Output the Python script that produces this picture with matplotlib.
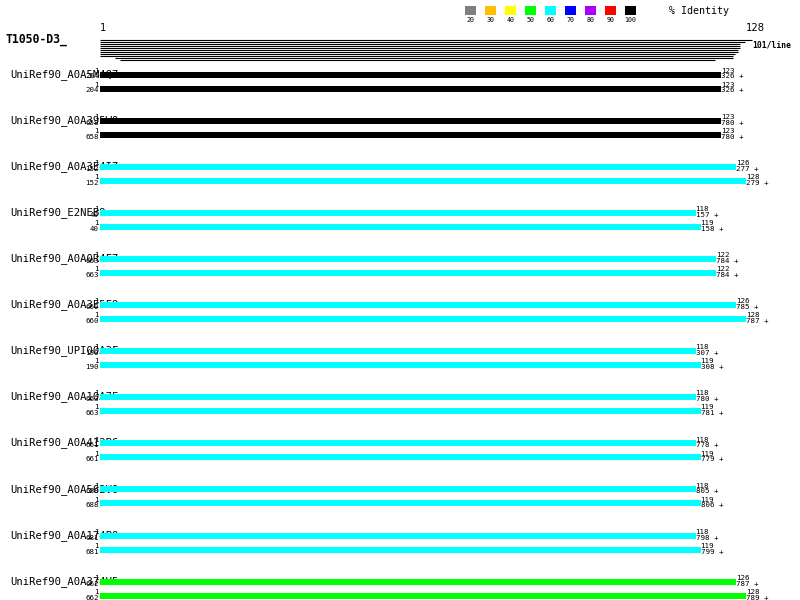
import matplotlib
matplotlib.use("Agg")
import matplotlib.pyplot as plt

# query length and title
query_name = "T1050-D3_"
query_len = 128

# hits: name (as shown, truncated), colour, (q_end, s_start, s_end) for the two rows
names = ["UniRef90_A0A5M4Q7", "UniRef90_A0A395W0", "UniRef90_A0A3E4I7",
         "UniRef90_E2NEB9", "UniRef90_A0A0R4F7", "UniRef90_A0A3E5F9",
         "UniRef90_UPI00A3F", "UniRef90_A0A10A7E", "UniRef90_A0A412B6",
         "UniRef90_A0A562V0", "UniRef90_A0A174P0", "UniRef90_A0A374V5"]
colors = ["#000000", "#000000", "#00ffff", "#00ffff", "#00ffff", "#00ffff",
          "#00ffff", "#00ffff", "#00ffff", "#00ffff", "#00ffff", "#00ff00"]
q_end1 = [123, 123, 126, 118, 122, 126, 118, 118, 118, 118, 118, 126]
s_start1 = [204, 658, 152, 40, 663, 660, 190, 663, 661, 688, 681, 662]
s_end1 = [326, 780, 277, 157, 784, 785, 307, 780, 778, 805, 798, 787]
q_end2 = [123, 123, 128, 119, 122, 128, 119, 119, 119, 119, 119, 128]
s_start2 = [204, 658, 152, 40, 663, 660, 190, 663, 661, 688, 681, 662]
s_end2 = [326, 780, 279, 158, 784, 787, 308, 781, 779, 806, 799, 789]

# identity legend
legend_labels = ["20", "30", "40", "50", "60", "70", "80", "90", "100"]
legend_colors = ["#808080", "#ffbf00", "#ffff00", "#00ff00", "#00ffff",
                 "#0000ff", "#a800ff", "#ff0000", "#000000"]

# query ruler lines (start, end in residues)
ruler_start = [0, 0, 0, 0, 0, 0, 0, 0, 0, 3, 4]
ruler_end = [129.2, 127.8, 126.8, 126.8, 126.8, 126.4, 126.4, 125.8, 125.4, 125.4, 121.9]

S = 646.0 / query_len          # pixels per residue
def px(p):
    return (p - 100) / S

fig = plt.figure(figsize=(8, 6), dpi=100)
ax = fig.add_axes([0, 0, 1, 1])
ax.set_xlim(px(0), px(800))
ax.set_ylim(600, 0)
ax.axis("off")

mono = "DejaVu Sans Mono"

# header
ax.text(px(5), 43, query_name, fontsize=8.3, family=mono, weight="bold", va="baseline")
ax.text(0, 31, "1", fontsize=7.2, va="baseline")
ax.text(query_len, 31, str(query_len), fontsize=7.2, va="baseline", ha="left")
ruler_y = [40 + 2 * i for i in range(len(ruler_start))]
ax.hlines(ruler_y, ruler_start, ruler_end, color="black", lw=0.8)
ax.text(px(752), 48, "101/line", fontsize=5.8, family=mono, weight="bold", va="baseline")

# legend
for i, (lab, c) in enumerate(zip(legend_labels, legend_colors)):
    x0 = px(465 + 20 * i)
    ax.bar(x0, 9.5, width=px(11) - px(0), bottom=5.5, align="edge", color=c)
    ax.text(x0 + (px(5.5) - px(0)), 21.5, lab, fontsize=4.8, family=mono,
            ha="center", va="baseline")
ax.text(px(669), 14.5, "% Identity", fontsize=7.2, family=mono, va="baseline")

# hits
for i in range(len(names)):
    y1 = 74.5 + 46.1 * i
    y2 = y1 + 14
    ax.text(px(10), y1 + 2.2, names[i], fontsize=7.6, family=mono, va="baseline", zorder=1)
    for y, qe, ss, se in [(y1, q_end1[i], s_start1[i], s_end1[i]),
                          (y2, q_end2[i], s_start2[i], s_end2[i])]:
        ax.barh(y, qe, left=0, height=6, color=colors[i], zorder=2)
        ax.text(-0.2, y - 3.8, "1", fontsize=5.4, family=mono, ha="right", va="center", zorder=3)
        ax.text(-0.2, y + 2, str(ss), fontsize=5.4, family=mono, ha="right", va="center", zorder=3)
        ax.text(qe, y - 3.8, str(qe), fontsize=5.4, family=mono, ha="left", va="center", zorder=3)
        ax.text(qe, y + 2, str(se) + " +", fontsize=5.4, family=mono, ha="left", va="center", zorder=3)

fig.savefig("out.png", dpi=100)
